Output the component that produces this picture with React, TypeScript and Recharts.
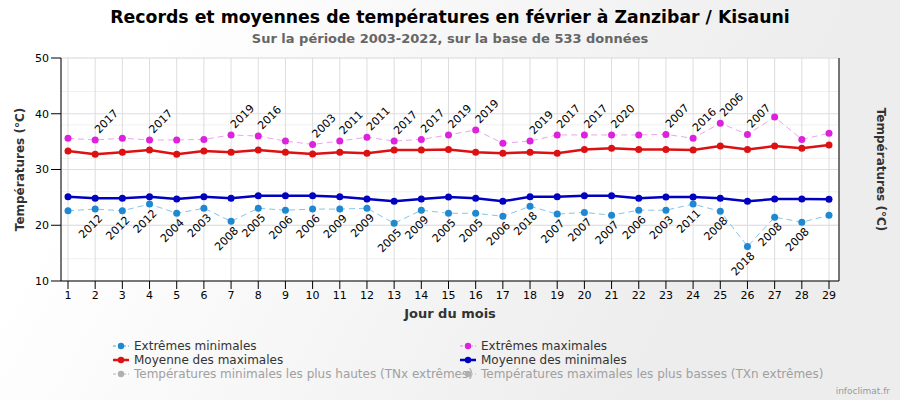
import {
  ComposedChart,
  Line,
  XAxis,
  YAxis,
  CartesianGrid,
  LabelList,
  Label,
} from 'recharts';

// jours du mois de février
const days = [1, 2, 3, 4, 5, 6, 7, 8, 9, 10, 11, 12, 13, 14, 15, 16, 17, 18, 19, 20, 21, 22, 23, 24, 25, 26, 27, 28, 29];

const extMin = [22.6, 22.9, 22.6, 23.8, 22.15, 23.05, 20.7, 23.05, 22.7, 22.9, 22.9, 23.05, 20.35, 22.7, 22.15, 22.15, 21.6, 23.4, 22.0, 22.3, 21.8, 22.7, 22.7, 23.8, 22.5, 16.2, 21.45, 20.55, 21.8];
const extMinYear = ['', '2012', '2012', '2012', '2004', '2003', '2008', '2005', '2006', '2006', '2009', '2009', '2005', '2009', '2005', '2005', '2006', '2018', '2007', '2007', '2007', '2006', '2003', '2011', '2008', '2018', '2008', '2008', ''];

const extMax = [35.6, 35.3, 35.6, 35.3, 35.3, 35.4, 36.2, 36.0, 35.1, 34.5, 35.1, 35.8, 35.1, 35.4, 36.2, 37.1, 34.7, 35.1, 36.2, 36.2, 36.2, 36.2, 36.3, 35.6, 38.3, 36.3, 39.4, 35.4, 36.5];
const extMaxYear = ['', '2017', '', '2017', '', '', '2019', '2016', '', '2003', '2011', '2011', '2017', '2017', '2019', '2019', '', '2019', '2017', '2017', '2020', '', '2007', '2016', '2006', '2007', '', '', ''];

const meanMax = [33.3, 32.75, 33.1, 33.5, 32.75, 33.3, 33.1, 33.5, 33.1, 32.8, 33.1, 32.9, 33.5, 33.5, 33.6, 33.1, 32.9, 33.1, 32.9, 33.6, 33.8, 33.6, 33.6, 33.5, 34.2, 33.6, 34.2, 33.8, 34.4];
const meanMin = [25.1, 24.85, 24.85, 25.1, 24.7, 25.1, 24.85, 25.3, 25.3, 25.3, 25.1, 24.7, 24.3, 24.7, 25.05, 24.85, 24.3, 25.1, 25.1, 25.3, 25.3, 24.85, 25.05, 25.05, 24.85, 24.3, 24.7, 24.7, 24.65];

const yTicks = [10, 20, 30, 40, 50];
const yMinorTicks = [10, 12, 14, 16, 18, 20, 22, 24, 26, 28, 30, 32, 34, 36, 38, 40, 42, 44, 46, 48, 50];

const FONT = '"DejaVu Sans", Verdana, sans-serif';

const C_EXTMIN = '#1e88d0';
const C_EXTMIN_LINE = '#86c4e8';
const C_EXTMAX = '#dd22dd';
const C_EXTMAX_LINE = '#e9a6e9';
const C_MOYMAX = '#dd1111';
const C_MOYMIN = '#0000c0';

const data = days.map((d, i) => ({
  day: d,
  extMin: extMin[i],
  extMinYear: extMinYear[i],
  extMax: extMax[i],
  extMaxYear: extMaxYear[i],
  meanMax: meanMax[i],
  meanMin: meanMin[i],
}));

function MaxYearLabel(props: any) {
  const { x, y, value } = props;
  if (!value) return null;
  const ax = x + 4;
  const ay = y - 6;
  return (
    <text x={ax} y={ay} transform={`rotate(-45 ${ax} ${ay})`} fontSize={11} fontFamily={FONT} fill="#000" textAnchor="start">
      {value}
    </text>
  );
}

function MinYearLabel(props: any) {
  const { x, y, value } = props;
  if (!value) return null;
  const ax = x + 8;
  const ay = y + 10;
  return (
    <text x={ax} y={ay} transform={`rotate(-45 ${ax} ${ay})`} fontSize={11} fontFamily={FONT} fill="#000" textAnchor="end">
      {value}
    </text>
  );
}

function AxisTitle({ x, rotate }: { x: number; rotate: number }) {
  const y = 169.5;
  return (
    <text x={x} y={y} transform={`rotate(${rotate} ${x} ${y})`} textAnchor="middle" dominantBaseline="central" fontSize={12} fontWeight="bold" fontFamily={FONT} fill="#333">
      Températures (°C)
    </text>
  );
}

function LegendIcon({ color, line, dashed }: { color: string; line: string; dashed?: boolean }) {
  return (
    <svg width={16} height={10} style={{ display: 'block' }}>
      <line x1={0} y1={5} x2={16} y2={5} stroke={line} strokeWidth={dashed ? 1.5 : 2.5} strokeDasharray={dashed ? '3 2' : undefined} />
      <circle cx={8} cy={5} r={3.2} fill={color} />
    </svg>
  );
}

function LegendItem({ left, top, label, color, line, dashed, muted }: any) {
  return (
    <div style={{ position: 'absolute', left, top, display: 'flex', alignItems: 'center', fontSize: 12, color: muted ? '#a0a0a0' : '#333', whiteSpace: 'nowrap', lineHeight: '14px' }}>
      <div style={{ marginRight: 5 }}>
        <LegendIcon color={color} line={line} dashed={dashed} />
      </div>
      {label}
    </div>
  );
}

export default function App() {
  return (
    <div style={{ position: 'absolute', left: 0, top: 0, width: 900, height: 400, fontFamily: FONT, background: 'linear-gradient(120deg, #ffffff 15%, #ededed 75%)', overflow: 'hidden' }}>
      <div style={{ position: 'absolute', left: 0, top: 7, width: 900, textAlign: 'center', fontSize: 17.3, fontWeight: 'bold', color: '#000' }}>
        Records et moyennes de températures en février à Zanzibar / Kisauni
      </div>
      <div style={{ position: 'absolute', left: 0, top: 31, width: 900, textAlign: 'center', fontSize: 13, fontWeight: 'bold', color: '#666' }}>
        Sur la période 2003-2022, sur la base de 533 données
      </div>
      <div style={{ position: 'absolute', left: 0, top: 0 }}>
        <ComposedChart width={900} height={400} data={data} margin={{ top: 58, right: 0, bottom: 0, left: 0 }} style={{ fontFamily: FONT }}>
          <CartesianGrid yAxisId="left" horizontalValues={yMinorTicks} vertical={false} stroke="#f0f0f0" fill="#ffffff" />
          <CartesianGrid yAxisId="left" horizontalValues={yTicks} stroke="#dddddd" />
          <XAxis
            dataKey="day"
            height={119}
            padding={{ left: 7, right: 10 }}
            interval={0}
            tickSize={8}
            stroke="#000"
            tick={{ fontSize: 11, fill: '#000', fontFamily: FONT }}
          >
            <Label content={() => (
              <text x={450} y={318} textAnchor="middle" fontSize={13} fontWeight="bold" fontFamily={FONT} fill="#333">Jour du mois</text>
            )} />
          </XAxis>
          <YAxis
            yAxisId="left"
            width={61}
            domain={[10, 50]}
            ticks={yTicks}
            tickSize={10}
            stroke="#000"
            tick={{ fontSize: 11, fill: '#000', fontFamily: FONT }}
          >
            <Label content={() => <AxisTitle x={20} rotate={-90} />} />
          </YAxis>
          <YAxis
            yAxisId="right"
            orientation="right"
            width={61}
            domain={[10, 50]}
            ticks={yTicks}
            tickSize={10}
            tickMargin={5}
            stroke="#000"
            tick={{ fontSize: 11, fill: '#000', fontFamily: FONT }}
          >
            <Label content={() => <AxisTitle x={881} rotate={90} />} />
          </YAxis>
          <Line
            yAxisId="left"
            dataKey="extMin"
            stroke={C_EXTMIN_LINE}
            strokeWidth={1}
            strokeDasharray="6 4"
            dot={{ r: 3.5, fill: C_EXTMIN, stroke: C_EXTMIN, strokeWidth: 0 }}
            activeDot={false}
            isAnimationActive={false}
          >
            <LabelList dataKey="extMinYear" content={MinYearLabel} />
          </Line>
          <Line
            yAxisId="left"
            dataKey="extMax"
            stroke={C_EXTMAX_LINE}
            strokeWidth={1}
            strokeDasharray="6 4"
            dot={{ r: 3.5, fill: C_EXTMAX, stroke: C_EXTMAX, strokeWidth: 0 }}
            activeDot={false}
            isAnimationActive={false}
          >
            <LabelList dataKey="extMaxYear" content={MaxYearLabel} />
          </Line>
          <Line
            yAxisId="left"
            dataKey="meanMax"
            stroke={C_MOYMAX}
            strokeWidth={2.5}
            dot={{ r: 3.5, fill: C_MOYMAX, stroke: C_MOYMAX, strokeWidth: 0 }}
            activeDot={false}
            isAnimationActive={false}
          />
          <Line
            yAxisId="left"
            dataKey="meanMin"
            stroke={C_MOYMIN}
            strokeWidth={2.5}
            dot={{ r: 3.5, fill: C_MOYMIN, stroke: C_MOYMIN, strokeWidth: 0 }}
            activeDot={false}
            isAnimationActive={false}
          />
        </ComposedChart>
      </div>
      <LegendItem left={113} top={339} label="Extrêmes minimales" color={C_EXTMIN} line={C_EXTMIN_LINE} dashed />
      <LegendItem left={460} top={339} label="Extrêmes maximales" color={C_EXTMAX} line={C_EXTMAX_LINE} dashed />
      <LegendItem left={113} top={353} label="Moyenne des maximales" color={C_MOYMAX} line={C_MOYMAX} />
      <LegendItem left={460} top={353} label="Moyenne des minimales" color={C_MOYMIN} line={C_MOYMIN} />
      <LegendItem left={113} top={367} label="Températures minimales les plus hautes (TNx extrêmes)" color="#b0b0b0" line="#cccccc" dashed muted />
      <LegendItem left={460} top={367} label="Températures maximales les plus basses (TXn extrêmes)" color="#b0b0b0" line="#cccccc" dashed muted />
      <div style={{ position: 'absolute', right: 10, top: 386, fontSize: 9, color: '#999' }}>infoclimat.fr</div>
    </div>
  );
}
